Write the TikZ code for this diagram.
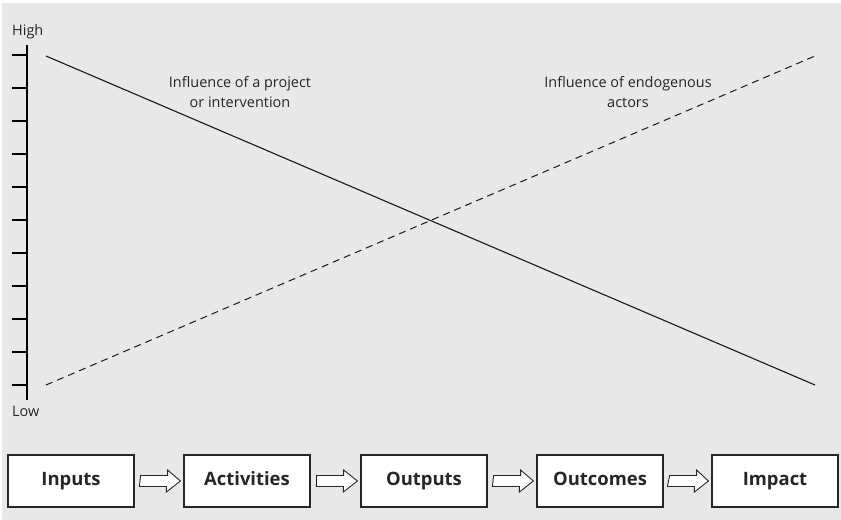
\documentclass[tikz,border=0pt]{standalone}
\usepackage{fontspec}
\setmainfont{Open Sans}
\begin{document}
\begin{tikzpicture}[x=1bp,y=-1bp,
  axisline/.style={line width=1.1bp,black},
  tickmark/.style={line width=1.1bp,black},
  project/.style={line width=1.1bp,black!90},
  endogenous/.style={line width=1bp,black!90,dash pattern=on 7bp off 5bp},
  axislabel/.style={font=\fontsize{14.5}{16}\selectfont,text=black!85,inner sep=0pt},
  curvelabel/.style={font=\fontsize{14.5}{19.5}\selectfont,text=black!85,align=center,inner sep=0pt},
  stagebox/.style={draw=black!85,line width=1.2bp,fill=white,minimum width=126bp,minimum height=52bp,
    font=\bfseries\fontsize{18.5}{20}\selectfont,text=black!85,inner sep=0pt,
    text height=13.5bp,text depth=4bp},
  flowarrow/.style={draw=black!85,line width=0.9bp,fill=white}]
  % canvas
  \fill[white] (0,0) rectangle (841,520);
  \fill[gray!18] (2,3) rectangle (841,520);
  \useasboundingbox (0,0) rectangle (841,520);

  % vertical scale with ticks
  \coordinate (axtop) at (27,45);
  \coordinate (axbot) at (27,400);
  \draw[axisline] (axtop) -- (axbot);
  \foreach \i in {0,...,10} {
    \draw[tickmark] (12,{55+33*\i}) -- (27,{55+33*\i});
  }
  \node[axislabel,anchor=base west] (high) at (12,36) {High};
  \node[axislabel,anchor=base west] (low) at (12,416) {Low};

  % influence curves
  \coordinate (p1) at (46,56);
  \coordinate (p2) at (815,385);
  \coordinate (e1) at (46,385);
  \coordinate (e2) at (815,56);
  \draw[project] (p1) -- (p2);
  \draw[endogenous] (e1) -- (e2);
  \node[curvelabel] (projlabel) at (240,92) {Influence of a project\\or intervention};
  \node[curvelabel] (endolabel) at (628,92) {Influence of endogenous\\actors};

  % results chain
  \node[stagebox] (inputs)     at (71,481)  {Inputs};
  \node[stagebox] (activities) at (247,481) {Activities};
  \node[stagebox] (outputs)    at (424,481) {Outputs};
  \node[stagebox] (outcomes)   at (600,481) {Outcomes};
  \node[stagebox] (impact)     at (775,481) {Impact};

  % block arrows between the stages
  \foreach \a/\b in {inputs/activities,activities/outputs,outputs/outcomes,outcomes/impact} {
    \draw[flowarrow]
      ([xshift=6bp]\a.east) ++(0,-5.5) -- ++(27,0) -- ++(0,-5.5) -- ([xshift=-3bp]\b.west)
      -- ++(-14,11) -- ++(0,-5.5) -- ++(-27,0) -- cycle;
  }
\end{tikzpicture}
\end{document}
